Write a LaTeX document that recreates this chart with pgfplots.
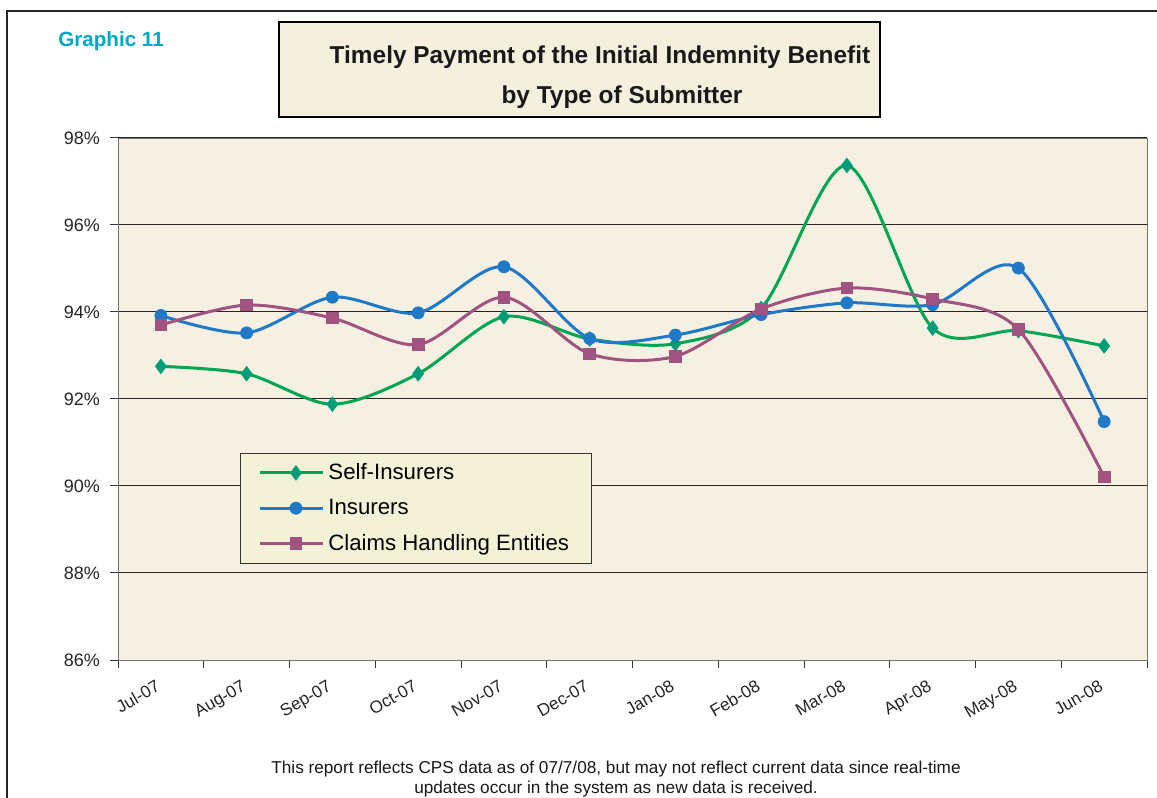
\documentclass[border=0pt]{standalone}
\usepackage{fontspec}
\setmainfont{Liberation Sans}
\usepackage{pgfplots}
\pgfplotsset{compat=1.18}
\definecolor{sigreen}{RGB}{0,166,81}
\definecolor{sigreenm}{RGB}{0,157,120}
\definecolor{insblue}{RGB}{31,121,199}
\definecolor{chmauve}{RGB}{160,82,128}
\definecolor{plotbg}{RGB}{245,240,225}
\definecolor{legbg}{RGB}{244,242,214}
\definecolor{titlebg}{RGB}{245,239,222}
\definecolor{graphcyan}{RGB}{0,168,200}

\pgfplotstableread{
x self ins claims
0  92.75 93.92 93.70
1  92.58 93.52 94.16
2  91.88 94.34 93.86
3  92.58 93.98 93.25
4  93.89 95.04 94.34
5  93.38 93.39 93.04
6  93.27 93.47 92.98
7  94.08 93.94 94.07
8  97.37 94.21 94.55
9  93.63 94.17 94.30
10 93.57 95.01 93.60
11 93.22 91.48 90.21
}\datatable

\begin{document}
\begin{tikzpicture}[x=1pt,y=1pt]
\path[use as bounding box] (0,0) rectangle (578.5,399);
\fill[white] (0,0) rectangle (578.5,399);
\draw[line width=1.1pt, black!85] (3.5,-2) -- (3.5,393.5) -- (580,393.5);
% title box
\draw[line width=0.9pt, fill=titlebg] (139.5,340.5) rectangle (440,388);
\node[font=\bfseries\fontsize{12.2}{14}\selectfont, text=black!90] at (300,370.5) {Timely Payment of the Initial Indemnity Benefit};
\node[font=\bfseries\fontsize{12.2}{14}\selectfont, text=black!90] at (311,350.5) {by Type of Submitter};
\node[anchor=west, font=\bfseries\fontsize{10.3}{12}\selectfont, text=graphcyan, inner sep=0pt] at (29,378.5) {Graphic 11};

\begin{axis}[
  at={(59pt,69pt)}, anchor=south west,
  scale only axis, width=514.5pt, height=261pt,
  xmin=-0.5, xmax=11.5, ymin=86, ymax=98,
  axis background/.style={fill=plotbg},
  axis line style={black!55},
  tick align=outside,
  tick pos=left,
  major tick length=4pt,
  tick style={black!80, line width=0.5pt},
  xtick={-0.5,0.5,...,11.5},
  xticklabels={},
  extra x ticks={0,1,...,11},
  extra x tick labels={Jul-07,Aug-07,Sep-07,Oct-07,Nov-07,Dec-07,Jan-08,Feb-08,Mar-08,Apr-08,May-08,Jun-08},
  extra x tick style={major tick length=0pt, grid=none,
     xticklabel style={xshift=-2.5pt, rotate=30, anchor=north east, font=\fontsize{8.6}{10}\selectfont, text=black!85, inner sep=1pt},
     xticklabel shift=8pt},
  ytick={86,88,90,92,94,96,98},
  yticklabels={86\%,88\%,90\%,92\%,94\%,96\%,98\%},
  yticklabel style={xshift=-1.5pt, font=\fontsize{9}{10.5}\selectfont, text=black!85},
  ymajorgrids,
  major grid style={black!85, line width=0.5pt},
  legend style={at={(0.1186,0.3966)}, anchor=north west, fill=legbg, draw=black!80,
     font=\fontsize{11.1}{13}\selectfont, row sep=4.3pt, inner xsep=9pt, inner ysep=3pt},
  legend cell align=left,
  legend image code/.code={
    \path (-5pt,0pt) -- (0pt,0pt);
    \draw[mark repeat=2,mark phase=2,#1] plot coordinates {(0pt,0pt) (13pt,0pt) (26.5pt,0pt)};
  },
]
\addplot[smooth, color=sigreen, line width=1.5pt, mark=diamond*, mark size=3.6pt,
  mark options={solid, fill=sigreenm, draw=sigreenm, line width=0.4pt}]
  table[x=x, y=self] {\datatable};
\addlegendentry{Self-Insurers}
\addplot[smooth, color=insblue, line width=1.5pt, mark=*, mark size=3pt,
  mark options={solid, fill=insblue, draw=insblue, line width=0.4pt}]
  table[x=x, y=ins] {\datatable};
\addlegendentry{Insurers}
\addplot[smooth, color=chmauve, line width=1.5pt, mark=square*, mark size=2.9pt,
  mark options={solid, fill=chmauve, draw=chmauve, line width=0.4pt}]
  table[x=x, y=claims] {\datatable};
\addlegendentry{Claims Handling Entities}
\end{axis}

\node[font=\fontsize{8.6}{10}\selectfont, text=black!90] at (308,14.5) {This report reflects CPS data as of 07/7/08, but may not reflect current data since real-time};
\node[font=\fontsize{8.6}{10}\selectfont, text=black!90] at (308,4.5) {updates occur in the system as new data is received.};
\end{tikzpicture}
\end{document}
